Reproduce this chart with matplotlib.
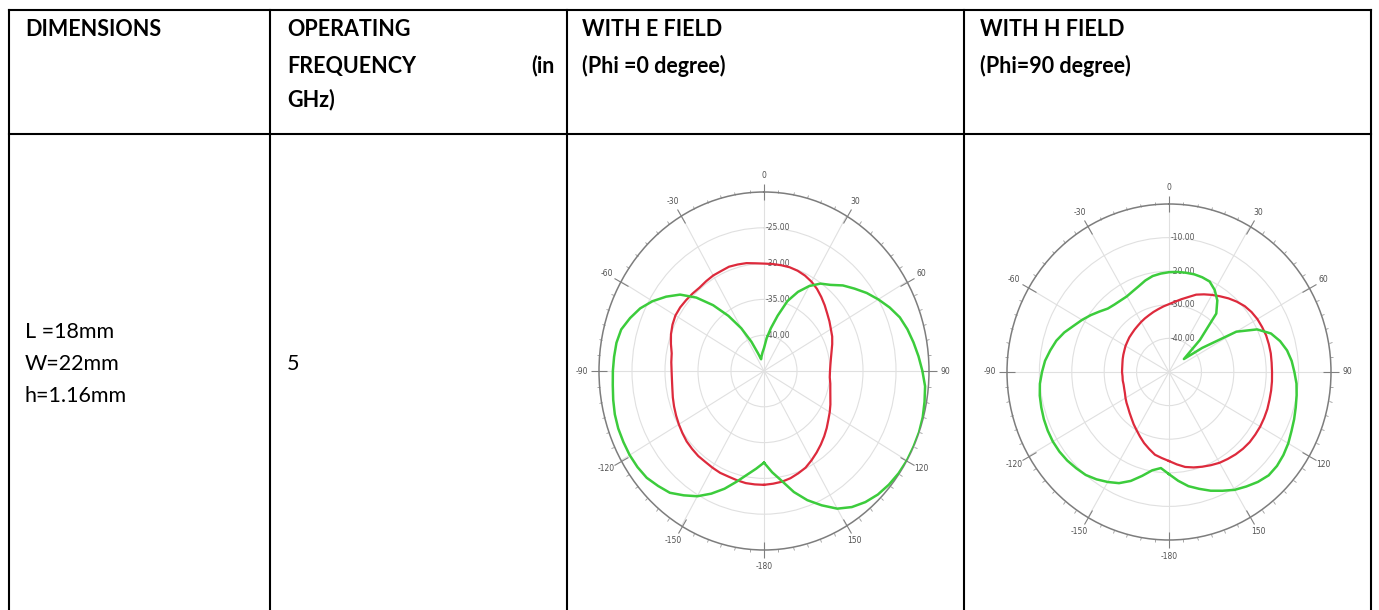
import numpy as np
import matplotlib
matplotlib.use("Agg")
import matplotlib.pyplot as plt

# ---------------------------------------------------------------- data
header_dimensions = ["DIMENSIONS"]
header_frequency = ["OPERATING", "FREQUENCY", "GHz)"]
header_e_field = ["WITH E FIELD", "(Phi =0 degree)"]
header_h_field = ["WITH H FIELD", "(Phi=90 degree)"]
dimension_lines = ["L =18mm", "W=22mm", "h=1.16mm"]
frequency_value = "5"

# pattern angles (deg), clockwise from broadside
angles_deg = list(range(-180, 185, 5))

# E plane (Phi = 0 deg), dB
e_red = [-29.1, -29.1, -29.1, -29.2, -29.3, -29.3, -29.4, -29.5, -29.5, -29.6,
         -29.7, -29.9, -30.1, -30.3, -30.5, -30.7, -30.9, -31.0, -31.0, -30.9,
         -30.8, -30.4, -30.0, -29.7, -29.5, -29.5, -29.6, -29.7, -29.8, -29.7,
         -29.6, -29.6, -29.5, -29.6, -29.7, -29.9, -30.0, -30.0, -30.0, -30.0,
         -30.1, -30.3, -30.6, -31.0, -31.5, -32.0, -32.5, -32.9, -33.3, -33.6,
         -34.0, -34.4, -34.7, -34.9, -35.0, -35.0, -34.8, -34.6, -34.3, -33.9,
         -33.5, -33.1, -32.6, -32.1, -31.6, -31.1, -30.6, -30.1, -29.8, -29.5,
         -29.3, -29.2, -29.1]
e_green = [-32.2, -31.3, -30.3, -29.0, -27.5, -26.1, -24.8, -23.8, -22.8, -22.3,
           -21.8, -21.6, -21.5, -21.5, -21.5, -21.6, -21.8, -22.0, -22.1, -22.2,
           -22.3, -22.6, -23.4, -24.3, -25.5, -26.9, -28.4, -30.5, -33.0, -35.6,
           -38.1, -40.5, -42.4, -43.3, -42.9, -42.4, -41.8, -40.4, -38.9, -37.0,
           -34.6, -32.8, -31.3, -30.1, -29.3, -28.1, -27.1, -26.0, -25.0, -24.0,
           -23.1, -22.5, -22.0, -21.5, -21.0, -20.5, -20.3, -20.1, -20.0, -20.0,
           -20.0, -20.1, -20.3, -20.6, -21.1, -21.8, -22.8, -24.3, -25.8, -27.5,
           -29.4, -30.8, -32.2]
e_rings = [-40.0, -35.0, -30.0, -25.0]
e_range = (-45.0, -20.0)

# H plane (Phi = 90 deg), dB
h_red = [-23.5, -24.3, -25.0, -26.3, -27.5, -28.8, -30.0, -31.0, -32.0, -32.8,
         -33.5, -34.0, -34.5, -35.0, -35.3, -35.5, -35.5, -35.6, -35.5, -35.5,
         -35.4, -35.2, -35.0, -34.8, -34.5, -34.3, -34.0, -33.8, -33.5, -33.2,
         -32.8, -32.4, -32.0, -31.5, -31.0, -30.4, -29.8, -29.0, -28.0, -26.9,
         -25.5, -24.5, -23.5, -22.5, -21.4, -20.4, -19.5, -18.9, -18.5, -18.3,
         -18.1, -18.1, -18.1, -18.2, -18.2, -18.1, -18.0, -17.9, -17.7, -17.6,
         -17.5, -17.5, -17.5, -17.7, -18.0, -18.4, -18.8, -19.4, -20.0, -20.6,
         -21.3, -22.4, -23.5]
h_green = [-19.6, -21.3, -20.3, -18.0, -15.5, -13.5, -12.2, -11.0, -10.0, -9.5,
           -9.0, -8.7, -8.6, -8.7, -8.9, -9.2, -9.5, -10.0, -10.8, -11.6,
           -12.8, -14.0, -15.6, -17.5, -19.0, -20.5, -22.0, -23.3, -23.8, -24.0,
           -24.0, -23.5, -22.8, -21.8, -21.0, -20.6, -20.3, -20.1, -20.0, -19.9,
           -20.0, -20.3, -21.8, -24.0, -27.3, -36.5, -44.0, -37.5, -26.0, -20.0,
           -16.5, -14.5, -13.0, -12.0, -11.3, -10.5, -10.0, -9.5, -8.9, -8.3,
           -7.5, -6.9, -6.5, -6.5, -7.3, -8.4, -9.5, -11.0, -12.4, -14.0,
           -15.5, -17.5, -19.6]
h_rings = [-40.0, -30.0, -20.0, -10.0]
h_range = (-50.0, 0.0)

theta_tick_deg = [0, 30, 60, 90, 120, 150, 180, 210, 240, 270, 300, 330]
theta_tick_labels = ["0", "30", "60", "90", "120", "150", "-180",
                     "-150", "-120", "-90", "-60", "-30"]

# ---------------------------------------------------------------- figure
W, H = 1379, 610
fig = plt.figure(figsize=(W / 100, H / 100), dpi=100)
fig.patch.set_facecolor("white")

tab = fig.add_axes([0, 0, 1, 1])
tab.set_xlim(0, W)
tab.set_ylim(H, 0)
tab.axis("off")

FONT = "Lato"
col_x = [9, 270, 567, 964, 1371]
top_y, header_y = 10, 134
line_kw = dict(color="black", lw=1.5, solid_capstyle="projecting")
tab.plot([col_x[0], col_x[-1]], [top_y, top_y], **line_kw)
tab.plot([col_x[0], col_x[-1]], [header_y, header_y], **line_kw)
for x in col_x:
    tab.plot([x, x], [top_y, H + 5], **line_kw)

row_y = [30, 66, 100]
hkw = dict(fontsize=15.5, fontweight="bold", family=FONT, va="center",
           ha="left", color="black")
tab.text(25, row_y[0], header_dimensions[0], **hkw)
for i, s in enumerate(header_frequency):
    tab.text(287, row_y[i], s, **hkw)
tab.text(555, row_y[1], "(in", **dict(hkw, ha="right"))
for i, s in enumerate(header_e_field):
    tab.text(582, row_y[i], s, **hkw)
for i, s in enumerate(header_h_field):
    tab.text(980, row_y[i], s, **hkw)

bkw = dict(fontsize=15.5, family=FONT, va="center", ha="left", color="black")
for i, s in enumerate(dimension_lines):
    tab.text(25, 332 + 32 * i, s, **bkw)
tab.text(287, 364, frequency_value, **bkw)


def pattern(rect, red, green, rings, rng):
    ax = fig.add_axes(rect, projection="polar")
    ax.set_aspect("auto")
    ax.set_theta_zero_location("N")
    ax.set_theta_direction(-1)
    ax.set_ylim(*rng)
    ax.set_yticks(rings)
    ax.set_yticklabels([])
    ax.set_xticks(np.deg2rad(theta_tick_deg))
    ax.set_xticklabels(theta_tick_labels)
    ax.set_xticks(np.deg2rad(np.arange(0, 360, 5)), minor=True)
    # tick marks on the outer rim only
    ax.tick_params(axis="x", which="both", bottom=False, top=True)
    ax.tick_params(axis="x", which="major", length=6, width=0.8,
                   color="#808080", direction="inout", pad=2,
                   labelsize=5.5, labelcolor="#505050")
    ax.tick_params(axis="x", which="minor", length=2.5, width=0.6,
                   color="#9a9a9a", direction="out")
    ax.tick_params(axis="y", length=0)
    ax.grid(True, color="#e0e0e0", lw=0.8)
    ax.spines["polar"].set_color("#7d7d7d")
    ax.spines["polar"].set_linewidth(1.1)
    for v in rings:
        ax.annotate(f"{v:.2f}", xy=(0, v), xytext=(1, 0),
                    textcoords="offset points", ha="left", va="center",
                    fontsize=5.5, color="#555555")
    th = np.deg2rad(angles_deg)
    ax.plot(th, red, color="#dd2a3c", lw=1.6, zorder=3)
    ax.plot(th, green, color="#3ccc3c", lw=1.8, zorder=4)
    return ax


pattern([599 / W, 1 - 550 / H, 330 / W, 358 / H], e_red, e_green, e_rings, e_range)
pattern([1007 / W, 1 - 540 / H, 324 / W, 336 / H], h_red, h_green, h_rings, h_range)

fig.savefig("out.png", dpi=100, facecolor="white")
